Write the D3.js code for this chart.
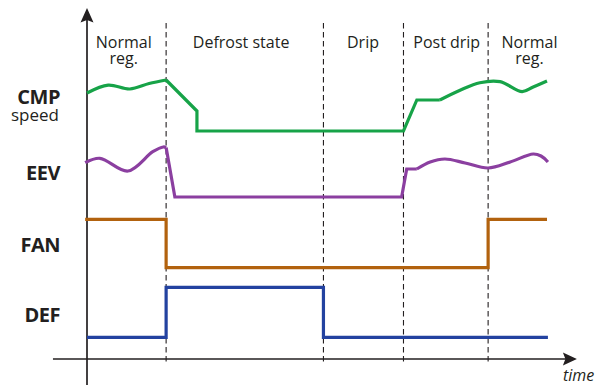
<!DOCTYPE html>
<html>
<head>
<meta charset="utf-8">
<script src="https://cdn.jsdelivr.net/npm/d3@7"></script>
<style>
  html, body { margin: 0; padding: 0; background: #fff; }
  svg { display: block; font-family: "Open Sans", "Noto Sans", sans-serif; }
</style>
</head>
<body>
<svg id="chart" width="598" height="385"></svg>
<script>
// ---------- DATA (time in % of cycle, levels 0..1 within each row) ----------
const phaseBoundaries = [17.2, 51.4, 68.8, 87.2];
const phaseLabels = [
  { lines: ["Normal", "reg."], t: 8.0 },
  { lines: ["Defrost state"], t: 33.5 },
  { lines: ["Drip"], t: 60.0 },
  { lines: ["Post drip"], t: 78.2 },
  { lines: ["Normal", "reg."], t: 96.2 }
];

// CMP speed: segments (smooth = wavy regulation, linear = ramps/steps)
const cmpWave1   = [[0, 0.745], [4.6, 0.90], [9.3, 0.824], [13.5, 0.93], [17.2, 1.0]];
const cmpRamp    = [[17.2, 1.0], [23.9, 0.392], [23.9, 0], [68.8, 0], [71.7, 0.608], [76.7, 0.608]];
const cmpWave2   = [[76.7, 0.608], [81.1, 0.80], [85.4, 0.947], [89.8, 0.967], [94.6, 0.771], [97.0, 0.863], [100, 0.98]];

// EEV opening
const eevWave1   = [[-0.4, 0.686], [2.8, 0.774], [8.9, 0.52], [14.3, 0.906], [16.6, 1.0], [17.2, 0.99]];
const eevRamp    = [[17.2, 0.99], [19.1, 0], [68.4, 0], [69.5, 0.56], [71.7, 0.56]];
const eevWave2   = [[71.7, 0.56], [74.6, 0.70], [77.8, 0.76], [82.2, 0.68], [87.2, 0.58], [92.0, 0.70], [97.0, 0.86], [98.7, 0.82], [100.2, 0.70]];

// FAN on/off
const fanSteps   = [[-0.4, 1], [17.2, 1], [17.2, 0], [87.2, 0], [87.2, 1], [100, 1]];
// DEF (defrost heater) on/off
const defSteps   = [[0, 0], [17.2, 0], [17.2, 1], [51.4, 1], [51.4, 0], [100.2, 0]];

const seriesNames = ["CMP", "EEV", "FAN", "DEF"];
const seriesSubs  = ["speed", "", "", ""];
const seriesSegments = {
  CMP: [{ smooth: true, pts: cmpWave1 }, { smooth: false, pts: cmpRamp }, { smooth: true, pts: cmpWave2 }],
  EEV: [{ smooth: true, pts: eevWave1 }, { smooth: false, pts: eevRamp }, { smooth: true, pts: eevWave2 }],
  FAN: [{ smooth: false, pts: fanSteps }],
  DEF: [{ smooth: false, pts: defSteps }]
};
const axisLabel = "time";

// ---------- LAYOUT / STYLE ----------
const colors = { CMP: "#17a348", EEV: "#8b3fa0", FAN: "#b2620e", DEF: "#2342a0" };
const rowRange = {            // [level 0 px, level 1 px]
  CMP: [131, 80],
  EEV: [197, 147],
  FAN: [267.7, 219.3],
  DEF: [337.3, 287.3]
};
const labelBaseline = { CMP: 103.5, EEV: 179.5, FAN: 251.5, DEF: 321.5 };
const ink = "#231f20";

const svg = d3.select("#chart");
const x = d3.scaleLinear().domain([0, 100]).range([87, 547]);
const yScales = {};
seriesNames.forEach(n => { yScales[n] = d3.scaleLinear().domain([0, 1]).range(rowRange[n]); });

const axisY = 359;           // x-axis position
const xAxisStart = x(-7.4), xAxisTip = x(106.5);

// dashed phase boundaries
svg.append("g").selectAll("line").data(phaseBoundaries).join("line")
  .attr("x1", d => x(d)).attr("x2", d => x(d))
  .attr("y1", 23).attr("y2", 364)
  .attr("stroke", ink).attr("stroke-width", 1.1)
  .attr("stroke-dasharray", "5.5,3.5");

// axes
svg.append("line").attr("x1", x(0)).attr("x2", x(0)).attr("y1", 385).attr("y2", 14)
  .attr("stroke", ink).attr("stroke-width", 1.7);
svg.append("path")
  .attr("d", `M${x(0)},8 L${x(0) + 6.5},22.5 L${x(0)},20 L${x(0) - 6.5},22.5 Z`)
  .attr("fill", ink);
svg.append("line").attr("x1", xAxisStart).attr("x2", xAxisTip - 6).attr("y1", axisY).attr("y2", axisY)
  .attr("stroke", ink).attr("stroke-width", 1.7);
svg.append("path")
  .attr("d", `M${xAxisTip},${axisY} L${xAxisTip - 14},${axisY + 6.5} L${xAxisTip - 11.5},${axisY} L${xAxisTip - 14},${axisY - 6.5} Z`)
  .attr("fill", ink);
svg.append("text").attr("x", 563).attr("y", 381)
  .attr("font-size", 16).attr("font-style", "italic").attr("fill", ink)
  .text(axisLabel);

// phase labels (one text per line)
const plData = [];
phaseLabels.forEach(d => d.lines.forEach((l, i) => plData.push({ l, i, t: d.t })));
svg.append("g").selectAll("text").data(plData).join("text")
  .attr("x", d => x(d.t)).attr("y", d => 48 + d.i * 16)
  .attr("text-anchor", "middle").attr("font-size", 16).attr("fill", ink)
  .text(d => d.l);

// series
const g = svg.append("g");
seriesNames.forEach((name, si) => {
  const y = yScales[name];
  seriesSegments[name].forEach(seg => {
    const line = d3.line()
      .x(d => x(d[0])).y(d => y(d[1]))
      .curve(seg.smooth ? d3.curveCatmullRom.alpha(0.5) : d3.curveLinear);
    g.append("path").attr("d", line(seg.pts))
      .attr("fill", "none").attr("stroke", colors[name])
      .attr("stroke-width", 3.2).attr("stroke-linejoin", "miter")
      .attr("stroke-linecap", "butt");
  });
  svg.append("text").attr("x", 60).attr("y", labelBaseline[name])
    .attr("text-anchor", "end").attr("font-size", 20).attr("font-weight", 700)
    .attr("fill", ink).attr("letter-spacing", -0.5).text(name);
  if (seriesSubs[si]) {
    svg.append("text").attr("x", 59).attr("y", labelBaseline[name] + 17.5)
      .attr("text-anchor", "end").attr("font-size", 17).attr("fill", ink)
      .text(seriesSubs[si]);
  }
});
</script>
</body>
</html>
